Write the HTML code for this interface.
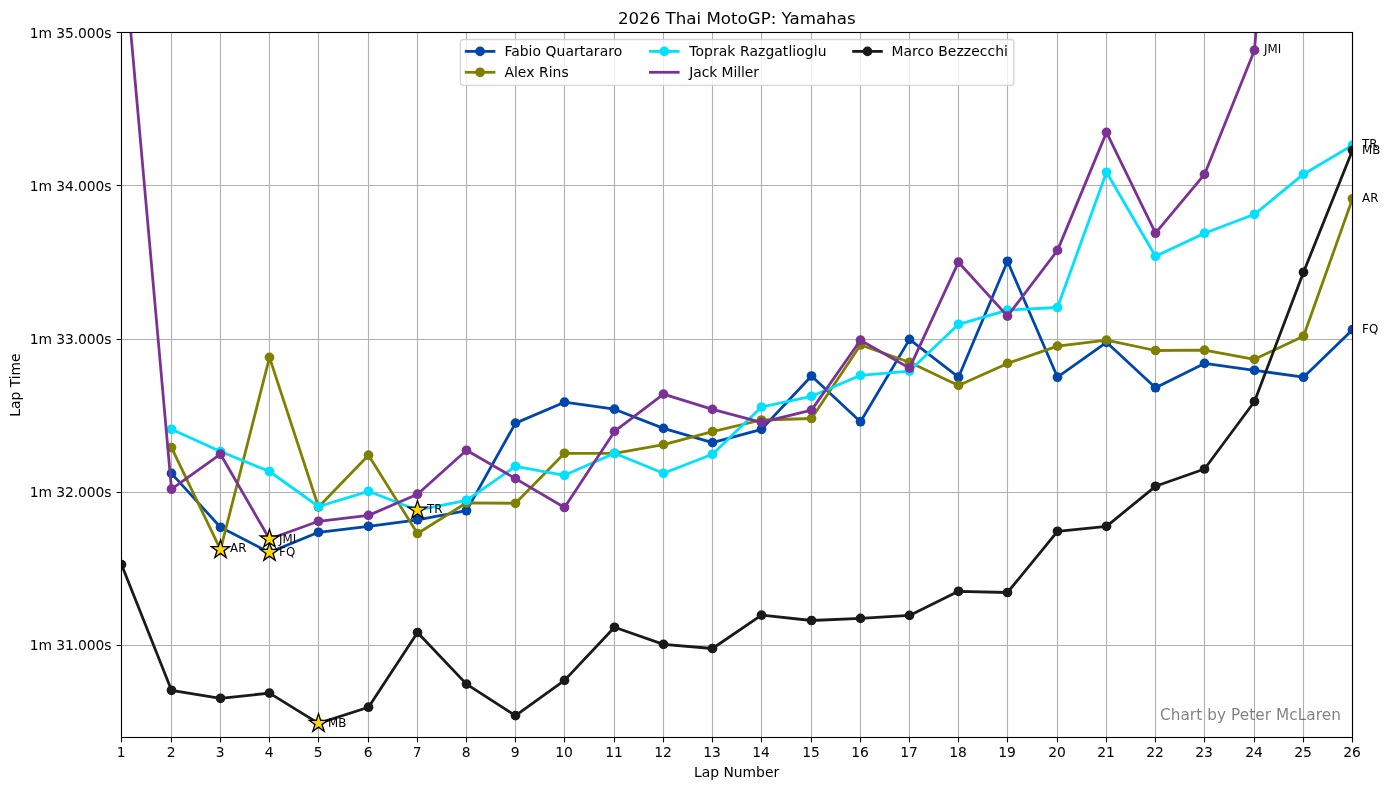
<!DOCTYPE html>
<html lang="en"><head><meta charset="utf-8"><title>2026 Thai MotoGP: Yamahas</title>
<style>
html,body{margin:0;padding:0;background:#fff;}
body{width:1391px;height:790px;overflow:hidden;}
svg{display:block;}
text{font-family:'DejaVu Sans','Liberation Sans',sans-serif;fill:#000;}
.t10{font-size:13.889px;}
.t8{font-size:11.8px;}
.t12{font-size:16.667px;}
</style></head><body>
<svg width="1391" height="790" viewBox="0 0 1391 790">
<rect width="1391" height="790" fill="#ffffff"/>
<defs><clipPath id="ax"><rect x="121.50" y="32.50" width="1231.00" height="705.00"/></clipPath></defs>

<g stroke="#b0b0b0" stroke-width="1.11" fill="none">
<line x1="121.5" y1="32.50" x2="121.5" y2="737.50"/>
<line x1="171.5" y1="32.50" x2="171.5" y2="737.50"/>
<line x1="220.5" y1="32.50" x2="220.5" y2="737.50"/>
<line x1="269.5" y1="32.50" x2="269.5" y2="737.50"/>
<line x1="318.5" y1="32.50" x2="318.5" y2="737.50"/>
<line x1="368.5" y1="32.50" x2="368.5" y2="737.50"/>
<line x1="417.5" y1="32.50" x2="417.5" y2="737.50"/>
<line x1="466.5" y1="32.50" x2="466.5" y2="737.50"/>
<line x1="515.5" y1="32.50" x2="515.5" y2="737.50"/>
<line x1="564.5" y1="32.50" x2="564.5" y2="737.50"/>
<line x1="614.5" y1="32.50" x2="614.5" y2="737.50"/>
<line x1="663.5" y1="32.50" x2="663.5" y2="737.50"/>
<line x1="712.5" y1="32.50" x2="712.5" y2="737.50"/>
<line x1="761.5" y1="32.50" x2="761.5" y2="737.50"/>
<line x1="811.5" y1="32.50" x2="811.5" y2="737.50"/>
<line x1="860.5" y1="32.50" x2="860.5" y2="737.50"/>
<line x1="909.5" y1="32.50" x2="909.5" y2="737.50"/>
<line x1="958.5" y1="32.50" x2="958.5" y2="737.50"/>
<line x1="1007.5" y1="32.50" x2="1007.5" y2="737.50"/>
<line x1="1057.5" y1="32.50" x2="1057.5" y2="737.50"/>
<line x1="1106.5" y1="32.50" x2="1106.5" y2="737.50"/>
<line x1="1155.5" y1="32.50" x2="1155.5" y2="737.50"/>
<line x1="1204.5" y1="32.50" x2="1204.5" y2="737.50"/>
<line x1="1254.5" y1="32.50" x2="1254.5" y2="737.50"/>
<line x1="1303.5" y1="32.50" x2="1303.5" y2="737.50"/>
<line x1="1352.5" y1="32.50" x2="1352.5" y2="737.50"/>
<line x1="121.50" y1="32.5" x2="1352.50" y2="32.5"/>
<line x1="121.50" y1="185.5" x2="1352.50" y2="185.5"/>
<line x1="121.50" y1="339.5" x2="1352.50" y2="339.5"/>
<line x1="121.50" y1="492.5" x2="1352.50" y2="492.5"/>
<line x1="121.50" y1="645.5" x2="1352.50" y2="645.5"/>
</g>
<g clip-path="url(#ax)">
<polyline points="171.50,473.40 220.50,527.30 269.50,552.40 318.50,532.30 368.50,526.30 417.50,519.80 466.50,510.70 515.50,423.10 564.50,402.20 614.50,409.20 663.50,428.40 712.50,442.60 761.50,429.30 811.50,376.00 860.50,421.70 909.50,339.40 958.50,377.20 1007.50,261.30 1057.50,377.20 1106.50,342.30 1155.50,387.70 1204.50,363.40 1254.50,370.30 1303.50,377.20 1352.50,329.70" fill="none" stroke="#0047AB" stroke-width="2.78" stroke-linejoin="round" stroke-linecap="butt"/>
<g fill="#0047AB"><circle cx="171.50" cy="473.40" r="4.86"/><circle cx="220.50" cy="527.30" r="4.86"/><circle cx="269.50" cy="552.40" r="4.86"/><circle cx="318.50" cy="532.30" r="4.86"/><circle cx="368.50" cy="526.30" r="4.86"/><circle cx="417.50" cy="519.80" r="4.86"/><circle cx="466.50" cy="510.70" r="4.86"/><circle cx="515.50" cy="423.10" r="4.86"/><circle cx="564.50" cy="402.20" r="4.86"/><circle cx="614.50" cy="409.20" r="4.86"/><circle cx="663.50" cy="428.40" r="4.86"/><circle cx="712.50" cy="442.60" r="4.86"/><circle cx="761.50" cy="429.30" r="4.86"/><circle cx="811.50" cy="376.00" r="4.86"/><circle cx="860.50" cy="421.70" r="4.86"/><circle cx="909.50" cy="339.40" r="4.86"/><circle cx="958.50" cy="377.20" r="4.86"/><circle cx="1007.50" cy="261.30" r="4.86"/><circle cx="1057.50" cy="377.20" r="4.86"/><circle cx="1106.50" cy="342.30" r="4.86"/><circle cx="1155.50" cy="387.70" r="4.86"/><circle cx="1204.50" cy="363.40" r="4.86"/><circle cx="1254.50" cy="370.30" r="4.86"/><circle cx="1303.50" cy="377.20" r="4.86"/><circle cx="1352.50" cy="329.70" r="4.86"/></g>
<polyline points="171.50,447.60 220.50,549.65 269.50,357.40 318.50,507.00 368.50,455.20 417.50,533.50 466.50,502.80 515.50,503.30 564.50,453.30 614.50,453.30 663.50,444.60 712.50,431.60 761.50,420.00 811.50,418.50 860.50,345.00 909.50,362.30 958.50,385.40 1007.50,363.40 1057.50,346.10 1106.50,340.10 1155.50,350.50 1204.50,350.20 1254.50,359.30 1303.50,336.20 1352.50,198.80" fill="none" stroke="#808000" stroke-width="2.78" stroke-linejoin="round" stroke-linecap="butt"/>
<g fill="#808000"><circle cx="171.50" cy="447.60" r="4.86"/><circle cx="220.50" cy="549.65" r="4.86"/><circle cx="269.50" cy="357.40" r="4.86"/><circle cx="318.50" cy="507.00" r="4.86"/><circle cx="368.50" cy="455.20" r="4.86"/><circle cx="417.50" cy="533.50" r="4.86"/><circle cx="466.50" cy="502.80" r="4.86"/><circle cx="515.50" cy="503.30" r="4.86"/><circle cx="564.50" cy="453.30" r="4.86"/><circle cx="614.50" cy="453.30" r="4.86"/><circle cx="663.50" cy="444.60" r="4.86"/><circle cx="712.50" cy="431.60" r="4.86"/><circle cx="761.50" cy="420.00" r="4.86"/><circle cx="811.50" cy="418.50" r="4.86"/><circle cx="860.50" cy="345.00" r="4.86"/><circle cx="909.50" cy="362.30" r="4.86"/><circle cx="958.50" cy="385.40" r="4.86"/><circle cx="1007.50" cy="363.40" r="4.86"/><circle cx="1057.50" cy="346.10" r="4.86"/><circle cx="1106.50" cy="340.10" r="4.86"/><circle cx="1155.50" cy="350.50" r="4.86"/><circle cx="1204.50" cy="350.20" r="4.86"/><circle cx="1254.50" cy="359.30" r="4.86"/><circle cx="1303.50" cy="336.20" r="4.86"/><circle cx="1352.50" cy="198.80" r="4.86"/></g>
<polyline points="171.50,429.30 220.50,451.50 269.50,471.50 318.50,506.50 368.50,491.30 417.50,510.20 466.50,500.30 515.50,466.30 564.50,475.30 614.50,453.30 663.50,473.30 712.50,454.30 761.50,407.00 811.50,396.30 860.50,375.30 909.50,371.10 958.50,324.30 1007.50,310.10 1057.50,307.50 1106.50,172.30 1155.50,256.30 1204.50,233.20 1254.50,214.30 1303.50,174.20 1352.50,145.20" fill="none" stroke="#00E0FF" stroke-width="2.78" stroke-linejoin="round" stroke-linecap="butt"/>
<g fill="#00E0FF"><circle cx="171.50" cy="429.30" r="4.86"/><circle cx="220.50" cy="451.50" r="4.86"/><circle cx="269.50" cy="471.50" r="4.86"/><circle cx="318.50" cy="506.50" r="4.86"/><circle cx="368.50" cy="491.30" r="4.86"/><circle cx="417.50" cy="510.20" r="4.86"/><circle cx="466.50" cy="500.30" r="4.86"/><circle cx="515.50" cy="466.30" r="4.86"/><circle cx="564.50" cy="475.30" r="4.86"/><circle cx="614.50" cy="453.30" r="4.86"/><circle cx="663.50" cy="473.30" r="4.86"/><circle cx="712.50" cy="454.30" r="4.86"/><circle cx="761.50" cy="407.00" r="4.86"/><circle cx="811.50" cy="396.30" r="4.86"/><circle cx="860.50" cy="375.30" r="4.86"/><circle cx="909.50" cy="371.10" r="4.86"/><circle cx="958.50" cy="324.30" r="4.86"/><circle cx="1007.50" cy="310.10" r="4.86"/><circle cx="1057.50" cy="307.50" r="4.86"/><circle cx="1106.50" cy="172.30" r="4.86"/><circle cx="1155.50" cy="256.30" r="4.86"/><circle cx="1204.50" cy="233.20" r="4.86"/><circle cx="1254.50" cy="214.30" r="4.86"/><circle cx="1303.50" cy="174.20" r="4.86"/><circle cx="1352.50" cy="145.20" r="4.86"/></g>
<polyline points="121.50,-72.00 171.50,489.20 220.50,454.20 269.50,539.00 318.50,521.30 368.50,515.40 417.50,494.20 466.50,450.30 515.50,478.60 564.50,507.50 614.50,431.40 663.50,394.10 712.50,409.40 761.50,422.40 811.50,410.10 860.50,340.20 909.50,368.10 958.50,262.20 1007.50,316.10 1057.50,250.40 1106.50,132.40 1155.50,233.20 1204.50,174.40 1254.50,50.30 1303.50,-575.00" fill="none" stroke="#7B3294" stroke-width="2.78" stroke-linejoin="round" stroke-linecap="butt"/>
<g fill="#7B3294"><circle cx="171.50" cy="489.20" r="4.86"/><circle cx="220.50" cy="454.20" r="4.86"/><circle cx="269.50" cy="539.00" r="4.86"/><circle cx="318.50" cy="521.30" r="4.86"/><circle cx="368.50" cy="515.40" r="4.86"/><circle cx="417.50" cy="494.20" r="4.86"/><circle cx="466.50" cy="450.30" r="4.86"/><circle cx="515.50" cy="478.60" r="4.86"/><circle cx="564.50" cy="507.50" r="4.86"/><circle cx="614.50" cy="431.40" r="4.86"/><circle cx="663.50" cy="394.10" r="4.86"/><circle cx="712.50" cy="409.40" r="4.86"/><circle cx="761.50" cy="422.40" r="4.86"/><circle cx="811.50" cy="410.10" r="4.86"/><circle cx="860.50" cy="340.20" r="4.86"/><circle cx="909.50" cy="368.10" r="4.86"/><circle cx="958.50" cy="262.20" r="4.86"/><circle cx="1007.50" cy="316.10" r="4.86"/><circle cx="1057.50" cy="250.40" r="4.86"/><circle cx="1106.50" cy="132.40" r="4.86"/><circle cx="1155.50" cy="233.20" r="4.86"/><circle cx="1204.50" cy="174.40" r="4.86"/><circle cx="1254.50" cy="50.30" r="4.86"/></g>
<polyline points="121.50,564.60 171.50,690.30 220.50,698.30 269.50,693.10 318.50,723.40 368.50,707.20 417.50,632.50 466.50,684.10 515.50,715.60 564.50,680.40 614.50,627.30 663.50,644.40 712.50,648.50 761.50,615.10 811.50,620.50 860.50,618.40 909.50,615.40 958.50,591.30 1007.50,592.50 1057.50,531.30 1106.50,526.30 1155.50,486.30 1204.50,469.00 1254.50,401.50 1303.50,272.30 1352.50,150.30" fill="none" stroke="#1a1a1a" stroke-width="2.78" stroke-linejoin="round" stroke-linecap="butt"/>
<g fill="#1a1a1a"><circle cx="121.50" cy="564.60" r="4.86"/><circle cx="171.50" cy="690.30" r="4.86"/><circle cx="220.50" cy="698.30" r="4.86"/><circle cx="269.50" cy="693.10" r="4.86"/><circle cx="318.50" cy="723.40" r="4.86"/><circle cx="368.50" cy="707.20" r="4.86"/><circle cx="417.50" cy="632.50" r="4.86"/><circle cx="466.50" cy="684.10" r="4.86"/><circle cx="515.50" cy="715.60" r="4.86"/><circle cx="564.50" cy="680.40" r="4.86"/><circle cx="614.50" cy="627.30" r="4.86"/><circle cx="663.50" cy="644.40" r="4.86"/><circle cx="712.50" cy="648.50" r="4.86"/><circle cx="761.50" cy="615.10" r="4.86"/><circle cx="811.50" cy="620.50" r="4.86"/><circle cx="860.50" cy="618.40" r="4.86"/><circle cx="909.50" cy="615.40" r="4.86"/><circle cx="958.50" cy="591.30" r="4.86"/><circle cx="1007.50" cy="592.50" r="4.86"/><circle cx="1057.50" cy="531.30" r="4.86"/><circle cx="1106.50" cy="526.30" r="4.86"/><circle cx="1155.50" cy="486.30" r="4.86"/><circle cx="1204.50" cy="469.00" r="4.86"/><circle cx="1254.50" cy="401.50" r="4.86"/><circle cx="1303.50" cy="272.30" r="4.86"/><circle cx="1352.50" cy="150.30" r="4.86"/></g>
<polygon points="269.50,542.70 267.32,549.40 260.27,549.40 265.98,553.54 263.80,560.25 269.50,556.11 275.20,560.25 273.02,553.54 278.73,549.40 271.68,549.40" fill="#FFD700" stroke="#000" stroke-width="1.3" stroke-linejoin="miter" stroke-miterlimit="10"/>
<polygon points="220.50,539.95 218.32,546.65 211.27,546.65 216.98,550.79 214.80,557.50 220.50,553.36 226.20,557.50 224.02,550.79 229.73,546.65 222.68,546.65" fill="#FFD700" stroke="#000" stroke-width="1.3" stroke-linejoin="miter" stroke-miterlimit="10"/>
<polygon points="417.50,500.50 415.32,507.20 408.27,507.20 413.98,511.34 411.80,518.05 417.50,513.91 423.20,518.05 421.02,511.34 426.73,507.20 419.68,507.20" fill="#FFD700" stroke="#000" stroke-width="1.3" stroke-linejoin="miter" stroke-miterlimit="10"/>
<polygon points="269.50,529.30 267.32,536.00 260.27,536.00 265.98,540.14 263.80,546.85 269.50,542.71 275.20,546.85 273.02,540.14 278.73,536.00 271.68,536.00" fill="#FFD700" stroke="#000" stroke-width="1.3" stroke-linejoin="miter" stroke-miterlimit="10"/>
<polygon points="318.50,713.70 316.32,720.40 309.27,720.40 314.98,724.54 312.80,731.25 318.50,727.11 324.20,731.25 322.02,724.54 327.73,720.40 320.68,720.40" fill="#FFD700" stroke="#000" stroke-width="1.3" stroke-linejoin="miter" stroke-miterlimit="10"/>
</g>
<text class="t8" x="279.10" y="556">FQ</text>
<text class="t8" x="1362.10" y="333">FQ</text>
<text class="t8" x="230.10" y="552">AR</text>
<text class="t8" x="1362.10" y="202">AR</text>
<text class="t8" x="427.10" y="513">TR</text>
<text class="t8" x="1362.10" y="148">TR</text>
<text class="t8" x="279.10" y="543">JMI</text>
<text class="t8" x="1264.10" y="53">JMI</text>
<text class="t8" x="328.10" y="727">MB</text>
<text class="t8" x="1362.10" y="154">MB</text>
<text x="1340.9" y="720" text-anchor="end" style="fill:#000;fill-opacity:0.5;font-size:15.28px;letter-spacing:0.07px">Chart by Peter McLaren</text>
<rect x="121.5" y="32.5" width="1231" height="705" fill="none" stroke="#000" stroke-width="1.11"/>
<g stroke="#000" stroke-width="1.11">
<line x1="121.5" y1="737.5" x2="121.5" y2="742.4"/>
<line x1="171.5" y1="737.5" x2="171.5" y2="742.4"/>
<line x1="220.5" y1="737.5" x2="220.5" y2="742.4"/>
<line x1="269.5" y1="737.5" x2="269.5" y2="742.4"/>
<line x1="318.5" y1="737.5" x2="318.5" y2="742.4"/>
<line x1="368.5" y1="737.5" x2="368.5" y2="742.4"/>
<line x1="417.5" y1="737.5" x2="417.5" y2="742.4"/>
<line x1="466.5" y1="737.5" x2="466.5" y2="742.4"/>
<line x1="515.5" y1="737.5" x2="515.5" y2="742.4"/>
<line x1="564.5" y1="737.5" x2="564.5" y2="742.4"/>
<line x1="614.5" y1="737.5" x2="614.5" y2="742.4"/>
<line x1="663.5" y1="737.5" x2="663.5" y2="742.4"/>
<line x1="712.5" y1="737.5" x2="712.5" y2="742.4"/>
<line x1="761.5" y1="737.5" x2="761.5" y2="742.4"/>
<line x1="811.5" y1="737.5" x2="811.5" y2="742.4"/>
<line x1="860.5" y1="737.5" x2="860.5" y2="742.4"/>
<line x1="909.5" y1="737.5" x2="909.5" y2="742.4"/>
<line x1="958.5" y1="737.5" x2="958.5" y2="742.4"/>
<line x1="1007.5" y1="737.5" x2="1007.5" y2="742.4"/>
<line x1="1057.5" y1="737.5" x2="1057.5" y2="742.4"/>
<line x1="1106.5" y1="737.5" x2="1106.5" y2="742.4"/>
<line x1="1155.5" y1="737.5" x2="1155.5" y2="742.4"/>
<line x1="1204.5" y1="737.5" x2="1204.5" y2="742.4"/>
<line x1="1254.5" y1="737.5" x2="1254.5" y2="742.4"/>
<line x1="1303.5" y1="737.5" x2="1303.5" y2="742.4"/>
<line x1="1352.5" y1="737.5" x2="1352.5" y2="742.4"/>
<line x1="116.6" y1="32.5" x2="121.5" y2="32.5"/>
<line x1="116.6" y1="185.5" x2="121.5" y2="185.5"/>
<line x1="116.6" y1="339.5" x2="121.5" y2="339.5"/>
<line x1="116.6" y1="492.5" x2="121.5" y2="492.5"/>
<line x1="116.6" y1="645.5" x2="121.5" y2="645.5"/>
</g>
<text class="t10" x="121.10" y="757" text-anchor="middle">1</text>
<text class="t10" x="171.10" y="757" text-anchor="middle">2</text>
<text class="t10" x="220.10" y="757" text-anchor="middle">3</text>
<text class="t10" x="269.10" y="757" text-anchor="middle">4</text>
<text class="t10" x="318.10" y="757" text-anchor="middle">5</text>
<text class="t10" x="368.10" y="757" text-anchor="middle">6</text>
<text class="t10" x="417.10" y="757" text-anchor="middle">7</text>
<text class="t10" x="466.10" y="757" text-anchor="middle">8</text>
<text class="t10" x="515.10" y="757" text-anchor="middle">9</text>
<text class="t10" x="564.10" y="757" text-anchor="middle">10</text>
<text class="t10" x="614.10" y="757" text-anchor="middle">11</text>
<text class="t10" x="663.10" y="757" text-anchor="middle">12</text>
<text class="t10" x="712.10" y="757" text-anchor="middle">13</text>
<text class="t10" x="761.10" y="757" text-anchor="middle">14</text>
<text class="t10" x="811.10" y="757" text-anchor="middle">15</text>
<text class="t10" x="860.10" y="757" text-anchor="middle">16</text>
<text class="t10" x="909.10" y="757" text-anchor="middle">17</text>
<text class="t10" x="958.10" y="757" text-anchor="middle">18</text>
<text class="t10" x="1007.10" y="757" text-anchor="middle">19</text>
<text class="t10" x="1057.10" y="757" text-anchor="middle">20</text>
<text class="t10" x="1106.10" y="757" text-anchor="middle">21</text>
<text class="t10" x="1155.10" y="757" text-anchor="middle">22</text>
<text class="t10" x="1204.10" y="757" text-anchor="middle">23</text>
<text class="t10" x="1254.10" y="757" text-anchor="middle">24</text>
<text class="t10" x="1303.10" y="757" text-anchor="middle">25</text>
<text class="t10" x="1352.10" y="757" text-anchor="middle">26</text>
<text class="t10" x="111.4" y="38" text-anchor="end" style="letter-spacing:-0.08px">1m 35.000s</text>
<text class="t10" x="111.4" y="191" text-anchor="end" style="letter-spacing:-0.08px">1m 34.000s</text>
<text class="t10" x="111.4" y="344" text-anchor="end" style="letter-spacing:-0.08px">1m 33.000s</text>
<text class="t10" x="111.4" y="497" text-anchor="end" style="letter-spacing:-0.08px">1m 32.000s</text>
<text class="t10" x="111.4" y="650" text-anchor="end" style="letter-spacing:-0.08px">1m 31.000s</text>
<text class="t10" x="736.6" y="777" text-anchor="middle">Lap Number</text>
<text class="t10" transform="translate(20.3,385.1) rotate(-90)" text-anchor="middle">Lap Time</text>
<text class="t12" x="736.75" y="24.1" text-anchor="middle">2026 Thai MotoGP: Yamahas</text>
<rect x="460.4" y="39.5" width="553.5" height="45.9" rx="2.78" ry="2.78" fill="#ffffff" fill-opacity="0.8" stroke="#cccccc" stroke-opacity="0.8" stroke-width="1.39"/>
<line x1="464.81" y1="51.4" x2="495.37" y2="51.4" stroke="#0047AB" stroke-width="2.78"/>
<circle cx="480.09" cy="51.4" r="4.86" fill="#0047AB"/>
<text class="t10" x="504.4" y="55.9" style="letter-spacing:0.07px">Fabio Quartararo</text>
<line x1="464.81" y1="72.3" x2="495.37" y2="72.3" stroke="#808000" stroke-width="2.78"/>
<circle cx="480.09" cy="72.3" r="4.86" fill="#808000"/>
<text class="t10" x="504.4" y="76.75" style="letter-spacing:0.06px">Alex Rins</text>
<line x1="649.01" y1="51.4" x2="679.57" y2="51.4" stroke="#00E0FF" stroke-width="2.78"/>
<circle cx="664.29" cy="51.4" r="4.86" fill="#00E0FF"/>
<text class="t10" x="689.3" y="55.9" style="letter-spacing:0.09px">Toprak Razgatlioglu</text>
<line x1="649.01" y1="72.3" x2="679.57" y2="72.3" stroke="#7B3294" stroke-width="2.78"/>
<text class="t10" x="689.3" y="76.75" style="letter-spacing:-0.09px">Jack Miller</text>
<line x1="852.21" y1="51.4" x2="882.77" y2="51.4" stroke="#1a1a1a" stroke-width="2.78"/>
<circle cx="867.49" cy="51.4" r="4.86" fill="#1a1a1a"/>
<text class="t10" x="891.4" y="55.9" style="letter-spacing:0.08px">Marco Bezzecchi</text>
</svg></body></html>
